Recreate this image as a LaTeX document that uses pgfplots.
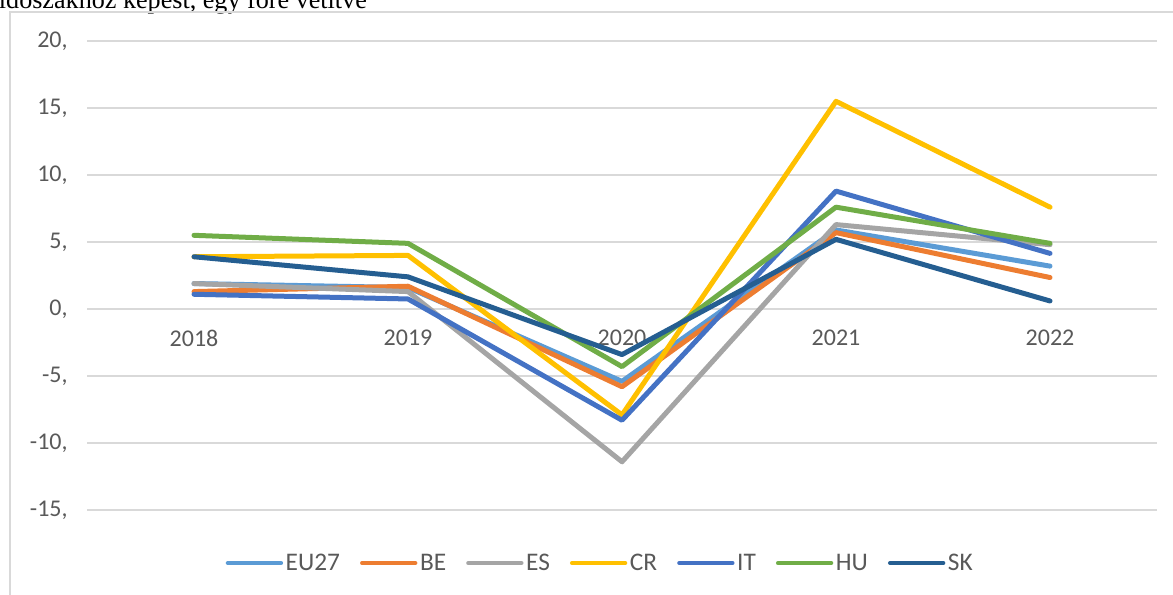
\documentclass[border=0pt]{standalone}
\usepackage{pgfplots}
\pgfplotsset{compat=1.18}
\usepackage{fontspec}
\setmainfont{Carlito}
\newfontfamily\seriffont{Liberation Serif}
\definecolor{ceu}{HTML}{5B9BD5}
\definecolor{cbe}{HTML}{ED7D31}
\definecolor{ces}{HTML}{A5A5A5}
\definecolor{ccr}{HTML}{FFC000}
\definecolor{cit}{HTML}{4472C4}
\definecolor{chu}{HTML}{70AD47}
\definecolor{csk}{HTML}{255E91}
\definecolor{gridc}{HTML}{D9D9D9}
\definecolor{txtc}{HTML}{595959}
\begin{document}
\begin{tikzpicture}
\path[use as bounding box, clip] (0pt,0pt) rectangle (879.75pt,-445.5pt);
\node[anchor=base west, inner sep=0pt, font=\seriffont\fontsize{19.6}{21}\selectfont] at (-1pt,-6.5pt) {időszakhoz képest, egy főre vetítve};
\draw[color=gridc, line width=0.9pt] (7.5pt,-470pt) -- (7.5pt,-9pt) -- (900pt,-9pt);
\begin{axis}[
  at={(65.25pt,-382.5pt)}, anchor=south west,
  scale only axis, width=802.5pt, height=351.75pt,
  xmin=2017.5, xmax=2022.5, ymin=-15, ymax=20,
  axis x line=middle, axis y line=left,
  axis line style={draw=none},
  hide obscured x ticks=false, hide obscured y ticks=false,
  major tick length=0pt,
  xtick={2018,2019,2020,2021,2022},
  xticklabels={2018,2019,2020,2021,2022},
  ytick={-15,-10,-5,0,5,10,15,20},
  yticklabels={{-15,},{-10,},{-5,},{0,},{5,},{10,},{15,},{20,}},
  ymajorgrids, major grid style={color=gridc, line width=1.2pt},
  tick label style={font=\fontsize{18}{20}\selectfont, text=txtc},
  xticklabel style={yshift=-12pt},
  yticklabel style={xshift=-11pt},
  legend style={at={(0.48,-0.113)}, anchor=center, draw=none, fill=none,
    font=\fontsize{19}{21}\selectfont, text=txtc, inner xsep=0pt,
    /tikz/every odd column/.append style={column sep=0pt},
    /tikz/every even column/.append style={column sep=13pt}},
  legend columns=7,
  legend cell align=left,
  legend image code/.code={\draw[line width=3pt, line cap=round] (0pt,0pt) -- (40pt,0pt);},
  every axis plot/.append style={line width=3.75pt, line join=round, line cap=round},
]
\addplot[ceu] coordinates {(2018,1.9) (2019,1.6) (2020,-5.4) (2021,5.9) (2022,3.2)};
\addlegendentry{EU27}
\addplot[cbe] coordinates {(2018,1.3) (2019,1.7) (2020,-5.8) (2021,5.7) (2022,2.35)};
\addlegendentry{BE}
\addplot[ces] coordinates {(2018,1.9) (2019,1.3) (2020,-11.4) (2021,6.3) (2022,4.8)};
\addlegendentry{ES}
\addplot[ccr] coordinates {(2018,3.9) (2019,4.0) (2020,-7.9) (2021,15.5) (2022,7.6)};
\addlegendentry{CR}
\addplot[cit] coordinates {(2018,1.1) (2019,0.75) (2020,-8.3) (2021,8.8) (2022,4.15)};
\addlegendentry{IT}
\addplot[chu] coordinates {(2018,5.5) (2019,4.9) (2020,-4.3) (2021,7.6) (2022,4.9)};
\addlegendentry{HU}
\addplot[csk] coordinates {(2018,3.9) (2019,2.4) (2020,-3.4) (2021,5.2) (2022,0.6)};
\addlegendentry{SK}
\end{axis}
\end{tikzpicture}
\end{document}
